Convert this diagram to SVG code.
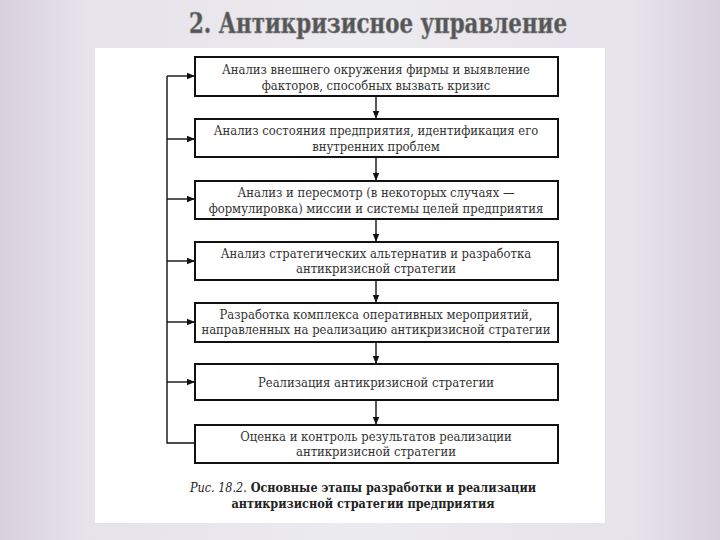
<svg xmlns="http://www.w3.org/2000/svg" width="720" height="540" viewBox="0 0 720 540">
<defs>
<linearGradient id="bg" x1="0" y1="0" x2="1" y2="0">
<stop offset="0" stop-color="#d8d0de"/>
<stop offset="0.12" stop-color="#e6e3ea"/>
<stop offset="0.5" stop-color="#ecebef"/>
<stop offset="0.88" stop-color="#e6e3ea"/>
<stop offset="1" stop-color="#d8d0de"/>
</linearGradient>
<marker id="ah" viewBox="0 0 10 10" refX="10" refY="5" markerWidth="10" markerHeight="8" markerUnits="userSpaceOnUse" orient="auto">
<path d="M0,1 L10,5 L0,9 Z" fill="#111"/>
</marker>
<style>
.box{fill:#fff;stroke:#111;stroke-width:2}
.t{font-family:"DejaVu Serif Condensed","DejaVu Serif",serif;font-stretch:condensed;font-size:12.9px;fill:#333;text-anchor:middle}
.c{stroke:#111;stroke-width:1.4;fill:none}
.cap{font-family:"DejaVu Serif Condensed","DejaVu Serif",serif;font-stretch:condensed;font-size:12.5px;fill:#222;text-anchor:middle}
</style>
</defs>
<rect x="0" y="0" width="720" height="540" fill="url(#bg)"/>
<text x="378" y="33" font-family="DejaVu Serif Condensed, DejaVu Serif, serif" font-size="27" font-weight="bold" fill="#555" stroke="#888" stroke-width="0.6" text-anchor="middle" textLength="378" lengthAdjust="spacingAndGlyphs">2. Антикризисное управление</text>
<rect x="95" y="48" width="510" height="475" fill="#fff"/>
<g id="connectors">
<path class="c" d="M376,96 V119" marker-end="url(#ah)"/>
<path class="c" d="M376,157 V181" marker-end="url(#ah)"/>
<path class="c" d="M376,219 V242" marker-end="url(#ah)"/>
<path class="c" d="M376,280 V303" marker-end="url(#ah)"/>
<path class="c" d="M376,342 V364" marker-end="url(#ah)"/>
<path class="c" d="M376,400 V425" marker-end="url(#ah)"/>
<path class="c" d="M195,443 H167 V76"/>
<path class="c" d="M167,76 H195" marker-end="url(#ah)"/>
<path class="c" d="M167,139 H195" marker-end="url(#ah)"/>
<path class="c" d="M167,199 H195" marker-end="url(#ah)"/>
<path class="c" d="M167,261 H195" marker-end="url(#ah)"/>
<path class="c" d="M167,322 H195" marker-end="url(#ah)"/>
<path class="c" d="M167,382 H195" marker-end="url(#ah)"/>
</g>
<g id="n1"><rect class="box" x="195" y="57" width="363" height="39"/>
<text class="t" x="376" y="74">Анализ внешнего окружения фирмы и выявление</text>
<text class="t" x="376" y="90">факторов, способных вызвать кризис</text></g>
<g id="n2"><rect class="box" x="195" y="119" width="363" height="38"/>
<text class="t" x="376" y="135">Анализ состояния предприятия, идентификация его</text>
<text class="t" x="376" y="151">внутренних проблем</text></g>
<g id="n3"><rect class="box" x="195" y="181" width="363" height="38"/>
<text class="t" x="376" y="197">Анализ и пересмотр (в некоторых случаях —</text>
<text class="t" x="376" y="213">формулировка) миссии и системы целей предприятия</text></g>
<g id="n4"><rect class="box" x="195" y="242" width="363" height="38"/>
<text class="t" x="376" y="258">Анализ стратегических альтернатив и разработка</text>
<text class="t" x="376" y="273">антикризисной стратегии</text></g>
<g id="n5"><rect class="box" x="195" y="303" width="363" height="39"/>
<text class="t" x="376" y="319">Разработка комплекса оперативных мероприятий,</text>
<text class="t" x="376" y="334">направленных на реализацию антикризисной стратегии</text></g>
<g id="n6"><rect class="box" x="195" y="364" width="363" height="36"/>
<text class="t" x="376" y="387">Реализация антикризисной стратегии</text></g>
<g id="n7"><rect class="box" x="195" y="425" width="363" height="38"/>
<text class="t" x="376" y="441">Оценка и контроль результатов реализации</text>
<text class="t" x="376" y="456">антикризисной стратегии</text></g>
<text class="cap" x="363" y="492"><tspan font-style="italic">Рис. 18.2.</tspan><tspan font-weight="bold"> Основные этапы разработки и реализации</tspan></text>
<text class="cap" x="363" y="508" font-weight="bold">антикризисной стратегии предприятия</text>
</svg>
